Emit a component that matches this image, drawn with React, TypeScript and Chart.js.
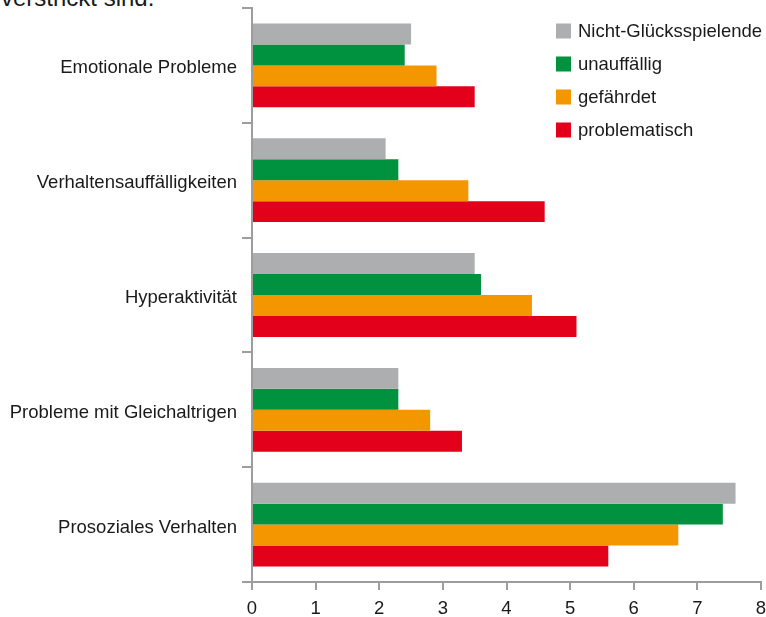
import React, { useEffect, useRef } from "react";
import { Chart, registerables } from "chart.js";

Chart.register(...registerables);

const categories = [
  "Emotionale Probleme",
  "Verhaltensauffälligkeiten",
  "Hyperaktivität",
  "Probleme mit Gleichaltrigen",
  "Prosoziales Verhalten",
];
const seriesNames = ["Nicht-Glücksspielende", "unauffällig", "gefährdet", "problematisch"];
const nichtGluecksspielende = [2.5, 2.1, 3.5, 2.3, 7.6];
const unauffaellig = [2.4, 2.3, 3.6, 2.3, 7.4];
const gefaehrdet = [2.9, 3.4, 4.4, 2.8, 6.7];
const problematisch = [3.5, 4.6, 5.1, 3.3, 5.6];
const seriesColors = ["#ADAEB0", "#00923F", "#F39600", "#E2001A"];
const xMin = 0;
const xMax = 8;
const xStep = 1;
const headerText = "verstrickt sind.";

const FONT = "'Liberation Sans', Arial, sans-serif";
const AXIS = "#9d9d9d";
const TEXT = "#1a1a1a";

const legendPlugin = {
  id: "customLegend",
  afterDraw(chart: any) {
    const ctx = chart.ctx;
    ctx.save();
    ctx.font = `18.5px ${FONT}`;
    ctx.textBaseline = "middle";
    ctx.textAlign = "left";
    chart.data.datasets.forEach((ds: any, i: number) => {
      const cy = 31 + i * 33;
      ctx.fillStyle = ds.backgroundColor;
      ctx.fillRect(556, cy - 7.5, 15, 15);
      ctx.fillStyle = TEXT;
      ctx.fillText(ds.label, 578, cy + 1);
    });
    ctx.restore();
  },
};

export default function App() {
  const ref = useRef<HTMLCanvasElement | null>(null);
  useEffect(() => {
    if (!ref.current) return;
    const series = [nichtGluecksspielende, unauffaellig, gefaehrdet, problematisch];
    const chart = new Chart(ref.current, {
      type: "bar",
      data: {
        labels: categories,
        datasets: series.map((d, i) => ({
          label: seriesNames[i],
          data: d,
          backgroundColor: seriesColors[i],
          borderWidth: 0,
          barPercentage: 1,
          categoryPercentage: 0.73,
        })),
      },
      options: {
        indexAxis: "y",
        responsive: false,
        animation: false,
        devicePixelRatio: 1,
        layout: { padding: { top: 8, right: 5, left: 0, bottom: 0 } },
        plugins: { legend: { display: false }, tooltip: { enabled: false } },
        scales: {
          y: {
            type: "category",
            offset: true,
            grid: { offset: true, drawOnChartArea: false, tickLength: 10, color: AXIS, lineWidth: 2 },
            border: { color: AXIS, width: 2 },
            ticks: { font: { size: 18.5, family: FONT }, color: TEXT, padding: 5, labelOffset: 3 },
            afterFit: (s: any) => {
              s.width = 252;
              s.paddingTop = 0;
              s.paddingBottom = 0;
            },
          },
          x: {
            min: xMin,
            max: xMax,
            ticks: { stepSize: xStep, font: { size: 18.5, family: FONT }, color: TEXT, padding: 8 },
            grid: { drawOnChartArea: false, tickLength: 8, color: AXIS, lineWidth: 2 },
            border: { color: AXIS, width: 2 },
            afterFit: (s: any) => {
              s.height = 35;
              s.paddingLeft = 0;
              s.paddingRight = 0;
            },
          },
        },
      } as any,
      plugins: [legendPlugin],
    });
    return () => chart.destroy();
  }, []);

  return (
    <div style={{ position: "absolute", left: 0, top: 0, width: 766, height: 617, overflow: "hidden", background: "#fff" }}>
      <div
        style={{
          position: "absolute",
          left: 1,
          top: -14,
          font: `24px ${FONT}`,
          lineHeight: "24px",
          color: TEXT,
          whiteSpace: "nowrap",
        }}
      >
        {headerText}
      </div>
      <canvas ref={ref} width={766} height={617} style={{ position: "absolute", left: 0, top: 0, display: "block" }} />
    </div>
  );
}
